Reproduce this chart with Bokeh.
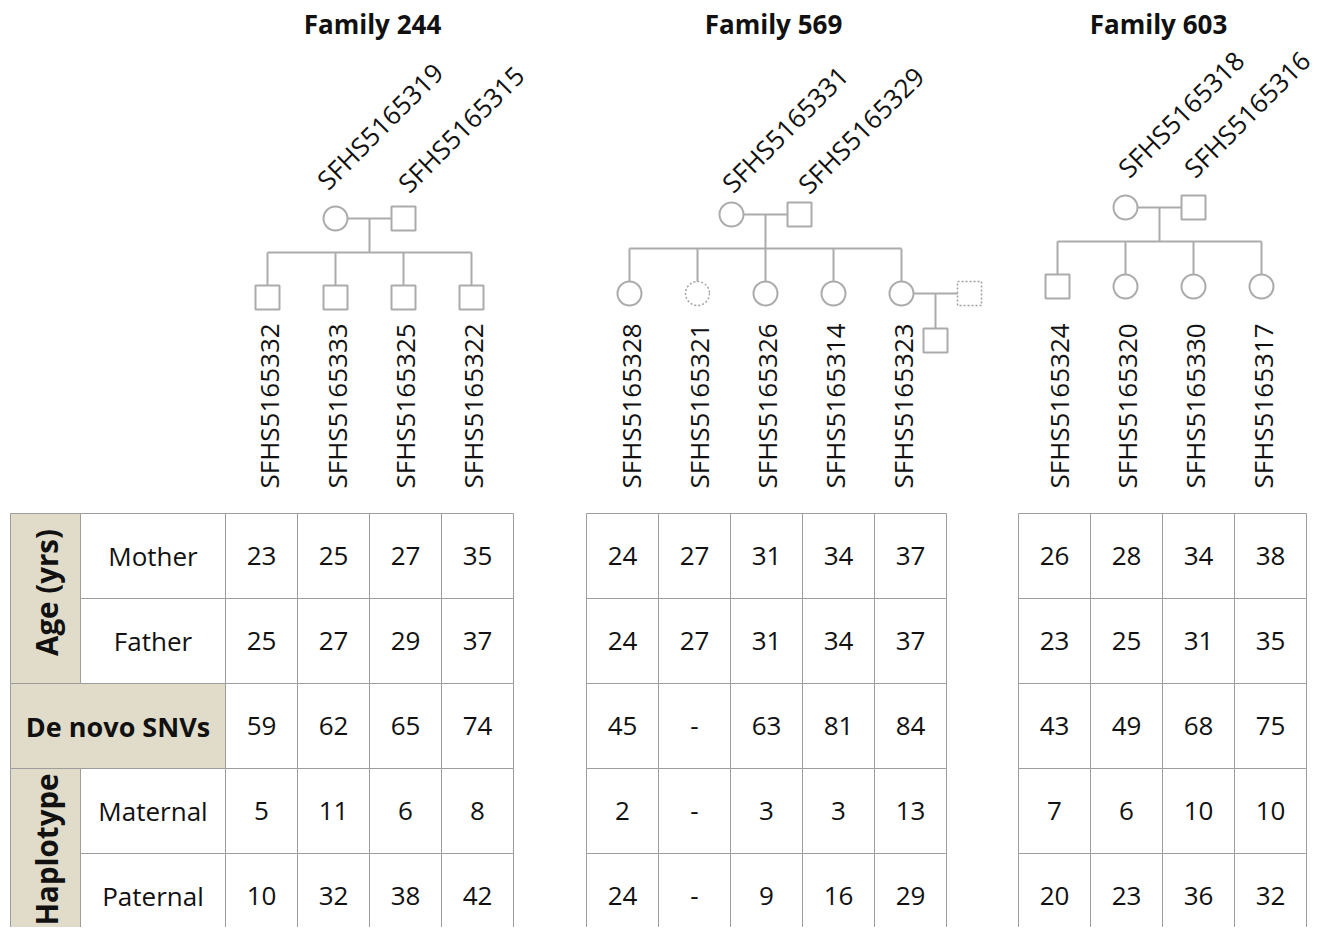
import math
from bokeh.plotting import figure
from bokeh.models import Range1d
from bokeh.core.properties import value
from bokeh.embed import file_html
from bokeh.resources import INLINE

# ---------------- data ----------------
family_names = ["Family 244", "Family 569", "Family 603"]

parents_244 = ["SFHS5165319", "SFHS5165315"]
parents_569 = ["SFHS5165331", "SFHS5165329"]
parents_603 = ["SFHS5165318", "SFHS5165316"]

children_244 = ["SFHS5165332", "SFHS5165333", "SFHS5165325", "SFHS5165322"]
children_569 = ["SFHS5165328", "SFHS5165321", "SFHS5165326", "SFHS5165314", "SFHS5165323"]
children_603 = ["SFHS5165324", "SFHS5165320", "SFHS5165330", "SFHS5165317"]

sex_244 = ["M", "M", "M", "M"]
sex_569 = ["F", "F", "F", "F", "F"]
sex_603 = ["M", "F", "F", "F"]

sequenced_244 = [True, True, True, True]
sequenced_569 = [True, False, True, True, True]
sequenced_603 = [True, True, True, True]

mother_age_244 = [23, 25, 27, 35]
father_age_244 = [25, 27, 29, 37]
denovo_244 = [59, 62, 65, 74]
maternal_244 = [5, 11, 6, 8]
paternal_244 = [10, 32, 38, 42]

mother_age_569 = [24, 27, 31, 34, 37]
father_age_569 = [24, 27, 31, 34, 37]
denovo_569 = [45, None, 63, 81, 84]
maternal_569 = [2, None, 3, 3, 13]
paternal_569 = [24, None, 9, 16, 29]

mother_age_603 = [26, 28, 34, 38]
father_age_603 = [23, 25, 31, 35]
denovo_603 = [43, 49, 68, 75]
maternal_603 = [7, 6, 10, 10]
paternal_603 = [20, 23, 36, 32]

# third generation in family 569: child index 4 has an unsequenced partner and a son
partner_child_569 = 4
partner_sex_569 = "M"
grandchild_sex_569 = "M"

row_labels = ["Mother", "Father", "De novo SNVs", "Maternal", "Paternal"]
group_labels = ["Age (yrs)", "Haplotype"]

families = [
    dict(name=family_names[0], parents=parents_244, children=children_244, sex=sex_244, seq=sequenced_244,
         rows=[mother_age_244, father_age_244, denovo_244, maternal_244, paternal_244]),
    dict(name=family_names[1], parents=parents_569, children=children_569, sex=sex_569, seq=sequenced_569,
         rows=[mother_age_569, father_age_569, denovo_569, maternal_569, paternal_569]),
    dict(name=family_names[2], parents=parents_603, children=children_603, sex=sex_603, seq=sequenced_603,
         rows=[mother_age_603, father_age_603, denovo_603, maternal_603, paternal_603]),
]

# ---------------- layout / style ----------------
FONT = value("Open Sans")
GRID = "#9d9d9d"
PED = "#ababab"
BEIGE = "#e0dcc9"
TOP, RH, CW = 513, 85, 72
table_left = [225, 586, 1018]
ped_cx = [369, 765, 1159]
ped_py = [218, 214, 207]
title_x = [372, 773, 1158]
parent_label_off = [((-14, -34), (-1, -31)), ((-5, -27), (3, -26)), ((-3, -35), (-5, -35))]
STEP, SIB, CH = 68, 34, 79
LABEL_BOTTOM = 488
W, H = 1321, 927


def Y(v):
    return -v


p = figure(width=W, height=H, x_range=Range1d(0, W), y_range=Range1d(-H, 0),
           output_backend="svg", toolbar_location=None, min_border=0,
           x_axis_type=None, y_axis_type=None)
p.xgrid.visible = False
p.ygrid.visible = False
p.outline_line_color = None
p.background_fill_color = "white"
p.border_fill_color = "white"

# ---------------- table: header cells ----------------
hl, hr, ht, hb, hc = [], [], [], [], []
hl += [10, 10, 10]; hr += [80, 225, 80]
ht += [TOP, TOP + 2 * RH, TOP + 3 * RH]; hb += [TOP + 2 * RH, TOP + 3 * RH, TOP + 5 * RH]
hc += [BEIGE, BEIGE, BEIGE]
for i in [0, 1, 3, 4]:
    hl.append(80); hr.append(225); ht.append(TOP + i * RH); hb.append(TOP + (i + 1) * RH); hc.append("white")
p.quad(left=hl, right=hr, top=[Y(v) for v in ht], bottom=[Y(v) for v in hb],
       fill_color=hc, line_color=GRID, line_width=1)

# row labels
lx, ly, lt = [], [], []
for i in [0, 1, 3, 4]:
    lx.append(152.5); ly.append(Y(TOP + RH * (i + 0.5))); lt.append(row_labels[i])
p.text(x=lx, y=ly, text=lt, text_font=FONT, text_font_size="26px", text_align="center",
       text_baseline="middle", text_color="#111111")
p.text(x=[117.5], y=[Y(TOP + RH * 2.5)], text=[row_labels[2]], text_font=FONT, text_font_size="27px",
       text_font_style="bold", text_align="center", text_baseline="middle", text_color="#111111")
p.text(x=[46, 46], y=[Y(TOP + RH - 6), Y(TOP + RH * 4 - 4)], text=group_labels, angle=math.pi / 2,
       text_font=FONT, text_font_size="29.5px", text_font_style="bold", text_align="center",
       text_baseline="middle", text_color="#111111")

# ---------------- table: data cells ----------------
cl, cr, ct, cb = [], [], [], []
tx, ty, tt = [], [], []
for f, fam in enumerate(families):
    x0 = table_left[f]
    for i, row in enumerate(fam["rows"]):
        for j, v in enumerate(row):
            cl.append(x0 + CW * j); cr.append(x0 + CW * (j + 1))
            ct.append(Y(TOP + RH * i)); cb.append(Y(TOP + RH * (i + 1)))
            tx.append(x0 + CW * (j + 0.5)); ty.append(Y(TOP + RH * (i + 0.5)))
            tt.append("-" if v is None else str(v))
p.quad(left=cl, right=cr, top=ct, bottom=cb, fill_color="white", line_color=GRID, line_width=1)
p.text(x=tx, y=ty, text=tt, text_font=FONT, text_font_size="26px", text_align="center",
       text_baseline="middle", text_color="#111111")

# ---------------- titles ----------------
p.text(x=title_x, y=[Y(23)] * 3, text=family_names, text_font=FONT, text_font_size="26px",
       text_font_style="bold", text_align="center", text_baseline="middle", text_color="#111111")

# ---------------- pedigrees ----------------
sx0, sy0, sx1, sy1 = [], [], [], []
solid_x, solid_y, solid_m = [], [], []
dot_x, dot_y, dot_m = [], [], []
plx, ply, plt = [], [], []
clx, cly, clt = [], [], []

marker = {"M": "square", "F": "circle"}


def add_shape(x, y, sex, seq):
    if seq:
        solid_x.append(x); solid_y.append(Y(y)); solid_m.append(marker[sex])
    else:
        dot_x.append(x); dot_y.append(Y(y)); dot_m.append(marker[sex])


for f, fam in enumerate(families):
    cx, py = ped_cx[f], ped_py[f]
    n = len(fam["children"])
    mx, fx = cx - STEP / 2, cx + STEP / 2
    kids = [cx + (j - (n - 1) / 2) * STEP for j in range(n)]
    cy = py + CH
    sx0 += [mx, cx, kids[0]]; sy0 += [Y(py), Y(py), Y(py + SIB)]
    sx1 += [fx, cx, kids[-1]]; sy1 += [Y(py), Y(py + SIB), Y(py + SIB)]
    for j, kx in enumerate(kids):
        sx0.append(kx); sy0.append(Y(py + SIB)); sx1.append(kx); sy1.append(Y(cy))
        add_shape(kx, cy, fam["sex"][j], fam["seq"][j])
        clx.append(kx + 1); cly.append(Y(LABEL_BOTTOM)); clt.append(fam["children"][j])
    add_shape(mx, py, "F", True)
    add_shape(fx, py, "M", True)
    (mdx, mdy), (fdx, fdy) = parent_label_off[f]
    plx += [mx + mdx, fx + fdx]; ply += [Y(py + mdy), Y(py + fdy)]; plt += fam["parents"]
    if f == 1:
        kx = kids[partner_child_569]
        px = kx + STEP
        gx = kx + STEP / 2
        sx0 += [kx, gx]; sy0 += [Y(cy), Y(cy)]
        sx1 += [px, gx]; sy1 += [Y(cy), Y(cy + 47)]
        add_shape(px, cy, partner_sex_569, False)
        add_shape(gx, cy + 47, grandchild_sex_569, True)

p.segment(x0=sx0, y0=sy0, x1=sx1, y1=sy1, line_color=PED, line_width=2)
p.scatter(x=solid_x, y=solid_y, marker=solid_m, size=24, fill_color="white",
          line_color=PED, line_width=2)
p.scatter(x=dot_x, y=dot_y, marker=dot_m, size=24, fill_color="white",
          line_color="#a0a0a0", line_width=1.5, line_dash="2 2")

p.text(x=clx, y=cly, text=clt, angle=math.pi / 2, text_font=FONT, text_font_size="26px",
       text_align="left", text_baseline="middle", text_color="#111111")
p.text(x=plx, y=ply, text=plt, angle=math.pi / 4, text_font=FONT, text_font_size="26px",
       text_align="left", text_baseline="alphabetic", text_color="#111111")

open("out.html", "w").write(file_html(p, INLINE))
